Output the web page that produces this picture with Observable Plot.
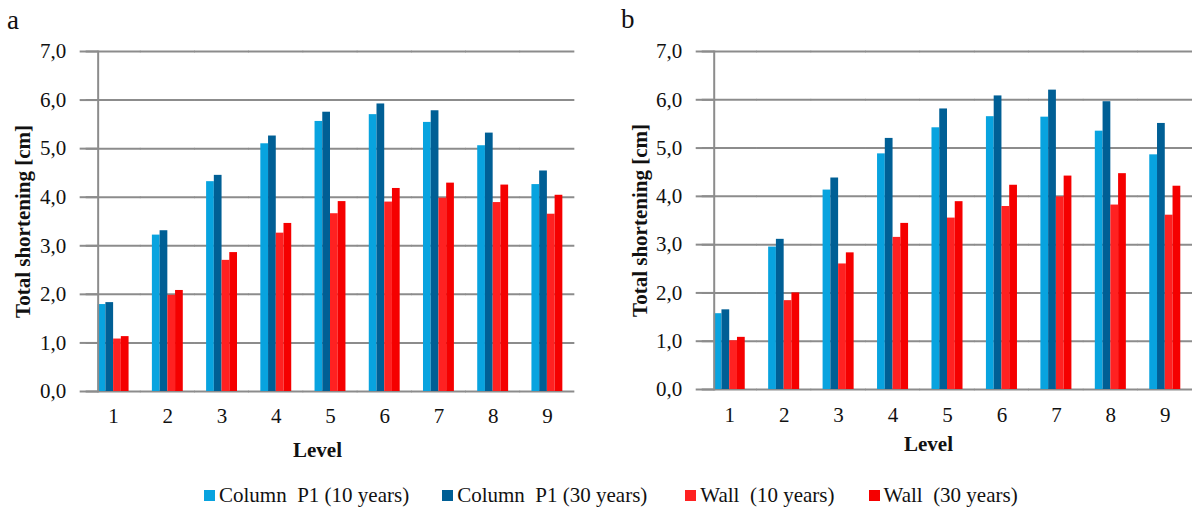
<!DOCTYPE html>
<html>
<head>
<meta charset="utf-8">
<script src="https://cdn.jsdelivr.net/npm/d3@7"></script>
<script src="https://cdn.jsdelivr.net/npm/@observablehq/plot@0.6"></script>
<style>
  html, body { margin: 0; padding: 0; background: #fff; }
  #root { position: relative; width: 1192px; height: 509px; overflow: hidden; font-family: "Liberation Serif", "Times New Roman", serif; color: #111; }
  .panel { position: absolute; top: 0; }
  .letter { position: absolute; font-size: 27px; line-height: 1; }
  #legend { position: absolute; left: 204px; top: 484px; display: flex; font-size: 21px; line-height: 22px; white-space: pre; }
  .item { display: flex; align-items: center; }
  .sw { width: 11px; height: 11px; margin-right: 4px; }
</style>
</head>
<body>
<div id="root">
  <div class="letter" style="left:7px; top:7px;">a</div>
  <div class="letter" style="left:621px; top:6px;">b</div>
  <div class="panel" id="pa" style="left:0px;"></div>
  <div class="panel" id="pb" style="left:596px;"></div>
  <div id="legend"></div>
</div>
<script>
// ---- data ----
const levels = ["1", "2", "3", "4", "5", "6", "7", "8", "9"];
const series = ["Column  P1 (10 years)", "Column  P1 (30 years)", "Wall  (10 years)", "Wall  (30 years)"];
const colors = ["#08A3DF", "#005F95", "#FF2121", "#F50000"];
const yTicks = [0, 1, 2, 3, 4, 5, 6, 7];

// panel a
const aColumn10 = [1.79, 3.22, 4.32, 5.10, 5.56, 5.70, 5.54, 5.06, 4.26];
const aColumn30 = [1.83, 3.31, 4.45, 5.26, 5.75, 5.92, 5.78, 5.32, 4.54];
const aWall10   = [1.08, 1.98, 2.70, 3.26, 3.66, 3.90, 3.98, 3.89, 3.65];
const aWall30   = [1.13, 2.08, 2.86, 3.46, 3.91, 4.18, 4.29, 4.25, 4.04];
// panel b
const bColumn10 = [1.57, 2.95, 4.13, 4.88, 5.42, 5.65, 5.64, 5.35, 4.86];
const bColumn30 = [1.65, 3.11, 4.38, 5.20, 5.81, 6.08, 6.20, 5.96, 5.51];
const bWall10   = [1.01, 1.84, 2.60, 3.15, 3.55, 3.79, 3.99, 3.82, 3.61];
const bWall30   = [1.08, 2.00, 2.83, 3.44, 3.89, 4.23, 4.42, 4.47, 4.21];

const yTitle = "Total shortening [cm]";
const xTitle = "Level";

function table(arrays) {
  const rows = [];
  levels.forEach((lv, i) => {
    series.forEach((s, j) => rows.push({level: lv, series: s, value: arrays[j][i]}));
  });
  return rows;
}

const grid = "#8C8C8C";
const fmt = d => d.toFixed(1).replace(".", ",");

function panel(data, m, levelDy, levelDx, titleDx) {
  return Plot.plot({
    width: 596,
    height: 470,
    marginLeft: m.left,
    marginRight: m.right,
    marginTop: m.top,
    marginBottom: m.bottom,
    style: {fontFamily: '"Liberation Serif", "Times New Roman", serif', fontSize: "21px", color: "#111", background: "transparent", overflow: "visible"},
    fx: {domain: levels, paddingInner: 0.43, paddingOuter: 0.215, round: false, label: null, tickSize: 0, tickPadding: m.tickPad, axis: "bottom"},
    x: {domain: series, padding: 0, round: false, axis: null},
    y: {domain: [0, 7], label: null},
    color: {domain: series, range: colors},
    marks: [
      Plot.ruleY(yTicks, {stroke: grid, strokeWidth: 2, insetLeft: -12, insetRight: -12}),
      Plot.barY(data, {fx: "level", x: "series", y: "value", fill: "series"}),
      Plot.axisY({ticks: yTicks, tickFormat: fmt, tickSize: 18, tickPadding: 14, stroke: grid, strokeWidth: 2, fill: "#111", label: null}),
      Plot.frame({anchor: "left", facet: "super", stroke: grid, strokeWidth: 2}),
      Plot.text([xTitle], {facet: "super", text: d => d, frameAnchor: "bottom", lineAnchor: "middle", textAnchor: "middle", dy: levelDy, dx: levelDx, fontWeight: "bold", fontSize: 21, fill: "#111"}),
      Plot.text([yTitle], {facet: "super", text: d => d, frameAnchor: "left", lineAnchor: "middle", textAnchor: "middle", rotate: -90, dx: titleDx, fontWeight: "bold", fontSize: 21, fill: "#111"})
    ]
  });
}

document.getElementById("pa").appendChild(
  panel(table([aColumn10, aColumn30, aWall10, aWall30]), {left: 86, right: 22, top: 51, bottom: 79, tickPad: 17}, 59, -13, -75)
);
document.getElementById("pb").appendChild(
  panel(table([bColumn10, bColumn30, bWall10, bWall30]), {left: 106, right: 0, top: 51, bottom: 81, tickPad: 18}, 55, -19, -74)
);

const gaps = [0, 33, 38, 34];
const leg = document.getElementById("legend");
series.forEach((s, i) => {
  const it = document.createElement("div");
  it.className = "item";
  it.style.marginLeft = gaps[i] + "px";
  const sw = document.createElement("span");
  sw.className = "sw";
  sw.style.background = colors[i];
  const tx = document.createElement("span");
  tx.textContent = s;
  it.appendChild(sw);
  it.appendChild(tx);
  leg.appendChild(it);
});
</script>
</body>
</html>
